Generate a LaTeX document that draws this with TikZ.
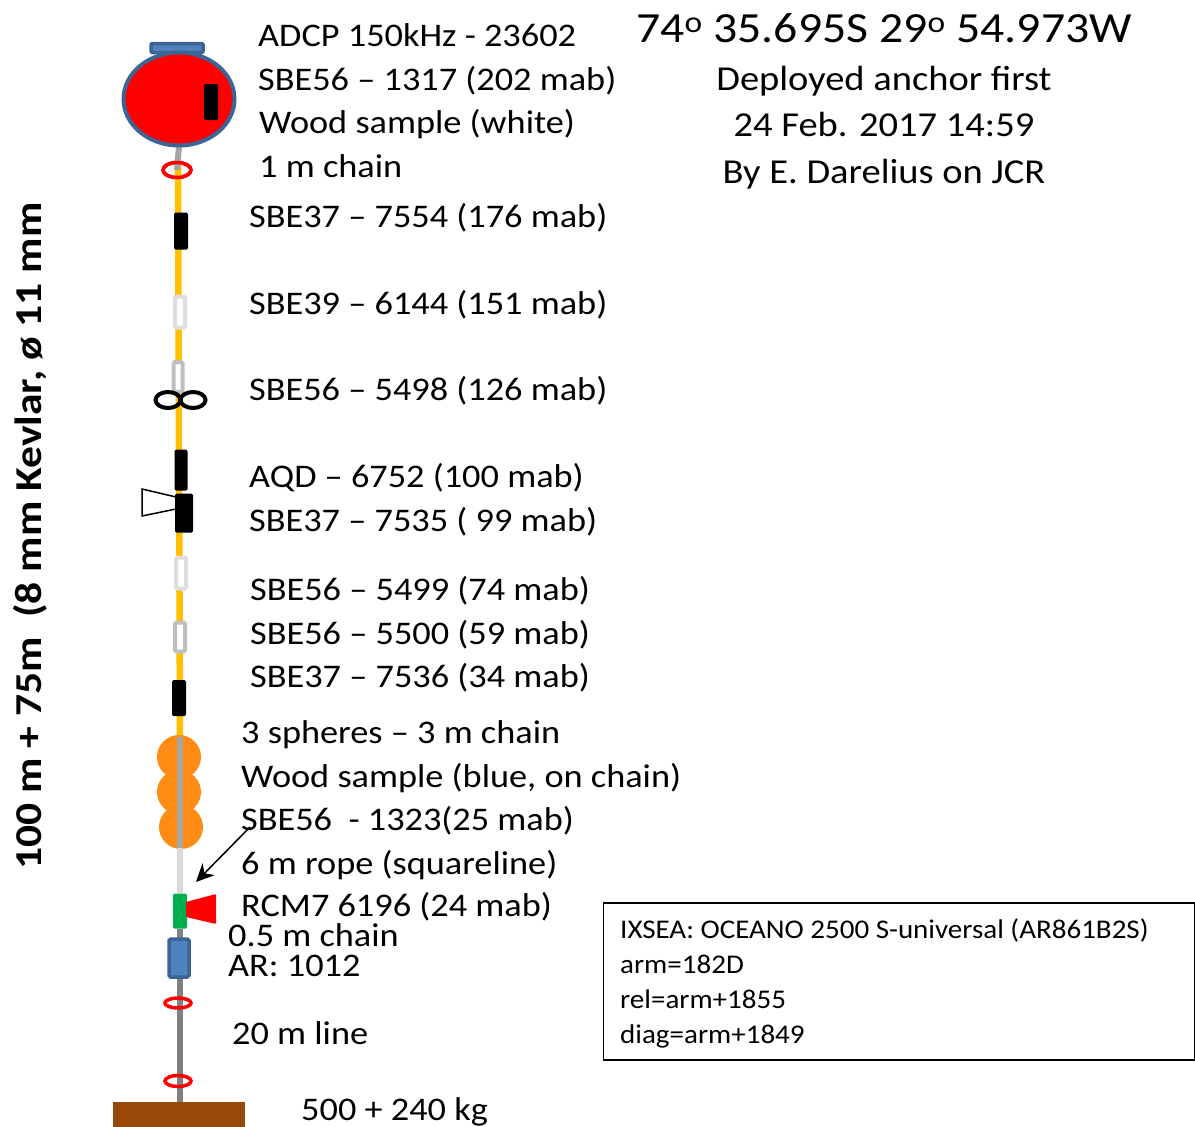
\documentclass[tikz,border=0pt]{standalone}
\usepackage{fontspec}
\setmainfont{Carlito}
\newfontfamily\widefont[FakeStretch=1.1]{Carlito}
\newfontfamily\headfont[FakeStretch=1.11]{Carlito}
\newfontfamily\boxfont[FakeStretch=1.075]{Carlito}
\newfontfamily\sidefont[FakeStretch=1.145]{Carlito}
\usetikzlibrary{shapes.geometric,arrows.meta}
\definecolor{floatblue}{HTML}{3C6494}
\definecolor{arblue}{HTML}{5082BE}
\definecolor{kevlar}{HTML}{FFC000}
\definecolor{sphere}{HTML}{FF8C14}
\definecolor{anchorbrown}{HTML}{984807}
\definecolor{rcmgreen}{HTML}{00B050}
\tikzset{
  label/.style={anchor=base west, inner sep=0pt, font=\widefont\fontsize{33}{33}\selectfont},
  head/.style={anchor=base, inner sep=0pt, font=\widefont\fontsize{35}{35}\selectfont},
  boxtext/.style={anchor=base west, inner sep=0pt, font=\boxfont\fontsize{27}{27}\selectfont},
  logger/.style={rectangle, rounded corners=1.5pt, fill=black, inner sep=0pt},
  hollow/.style={rectangle, rounded corners=1.5pt, draw, fill=white, line width=4pt, inner sep=0pt},
  ring/.style={ellipse, draw=red, line width=3.5pt, inner sep=0pt},
  ball/.style={circle, fill=sphere, minimum size=44pt, inner sep=0pt}
}
\begin{document}
\begin{tikzpicture}[x=1pt, y=-1pt]
  \useasboundingbox (0,0) rectangle (1195,1127);

  % line
  \coordinate (top) at (179,146);
  \coordinate (balltop) at (180,737);
  \coordinate (ballend) at (180,848);
  \coordinate (groundtop) at (180,1102);
  \node[ring, minimum width=28pt, minimum height=15pt] (ring1) at (177,170) {};
  \node[rectangle, fill=rcmgreen, rounded corners=1.5pt, minimum width=14pt, minimum height=35pt, inner sep=0pt] (rcm) at (180,911) {};
  \draw[kevlar, line width=6.5pt] (178,160) -- (balltop);

  % spheres
  \node[ball] (ball1) at (179,757) {};
  \node[ball] (ball2) at (179,792) {};
  \node[ball] (ball3) at (181,827) {};
  \draw[black!35, line width=6pt] (balltop) -- (ballend);
  \draw[black!15, line width=6.5pt] (ballend) -- (rcm.north);
  \draw[black!50, line width=6pt] (rcm.south) -- (groundtop);
  \draw[black!35, line width=6pt] (top) -- (ring1.center);

  % float
  \node[rectangle, rounded corners=1pt, draw=floatblue, fill=arblue, line width=3.5pt, minimum width=52pt, minimum height=9pt, inner sep=0pt] (cap) at (177,48) {};
  \node[ellipse, draw=floatblue, fill=red, line width=4pt, minimum width=111pt, minimum height=93pt, inner sep=0pt] (float) at (179,99) {};
  \node[logger, minimum width=14pt, minimum height=36pt] (adcp) at (211,102) {};
  \node[ring, minimum width=28pt, minimum height=15pt] at (ring1) {};

  % instruments
  \node[logger, minimum width=14pt, minimum height=37pt] (sbe1) at (181,231) {};
  \node[hollow, draw=black!13, minimum width=10pt, minimum height=31pt] (sbe2) at (180,312) {};
  \node[hollow, draw=black!25, minimum width=9pt, minimum height=30pt] (sbe3) at (178,377) {};
  \node[ellipse, draw, line width=4pt, minimum width=25pt, minimum height=16pt, inner sep=0pt] (eightl) at (168,400) {};
  \node[ellipse, draw, line width=4pt, minimum width=25pt, minimum height=16pt, inner sep=0pt] (eightr) at (193,400) {};
  \node[logger, minimum width=13pt, minimum height=41pt] (aqd) at (181,470) {};
  \draw[line width=1.5pt, fill=white] (176,497) -- (142,489) -- (142,516) -- (176,509) -- cycle;
  \node[logger, minimum width=18pt, minimum height=39pt] (sbe4) at (184,513) {};
  \node[hollow, draw=black!13, minimum width=10pt, minimum height=31pt] (sbe5) at (181,573) {};
  \node[hollow, draw=black!25, minimum width=10pt, minimum height=29pt] (sbe6) at (180,637) {};
  \node[logger, minimum width=14pt, minimum height=36pt] (sbe7) at (179,698) {};

  % bottom part
  \fill[red, rounded corners=1pt] (186,902) -- (216,894) -- (216,924) -- (186,917) -- cycle;
  \node[rectangle, rounded corners=1.5pt, draw=floatblue, fill=arblue, line width=3.5pt, minimum width=20pt, minimum height=38pt, inner sep=0pt] (ar) at (179,958) {};
  \node[ring, minimum width=26pt, minimum height=10pt] (ring2) at (178,1003) {};
  \node[ring, minimum width=26pt, minimum height=11pt] (ring3) at (178,1081) {};
  \fill[anchorbrown] (113,1102) rectangle (245,1127);

  \coordinate (arrowstart) at (250,827);
  \coordinate (arrowend) at (196,882);
  \draw[-{Stealth[length=18pt,width=17pt]}, line width=1.5pt] (arrowstart) -- (arrowend);

  % labels
  \node[label] (t1) at (258,46) {ADCP 150kHz - 23602};
  \node[label] (t2) at (258,90) {SBE56 – 1317 (202 mab)};
  \node[label] (t3) at (259,133) {Wood sample (white)};
  \node[label] (t4) at (259,177) {1 m chain};
  \node[label] (t5) at (249,227) {SBE37 – 7554 (176 mab)};
  \node[label] (t6) at (249,314) {SBE39 – 6144 (151 mab)};
  \node[label] (t7) at (249,400) {SBE56 – 5498 (126 mab)};
  \node[label] (t8) at (249,487) {AQD – 6752 (100 mab)};
  \node[label] (t9) at (249,531) {SBE37 – 7535 ( 99 mab)};
  \node[label] (t10) at (250,600) {SBE56 – 5499 (74 mab)};
  \node[label] (t11) at (250,644) {SBE56 – 5500 (59 mab)};
  \node[label] (t12) at (250,687) {SBE37 – 7536 (34 mab)};
  \node[label] (t13) at (241,743) {3 spheres – 3 m chain};
  \node[label] (t14) at (241,787) {Wood sample (blue, on chain)};
  \node[label] (t15) at (241,830) {SBE56\ \ - 1323(25 mab)};
  \node[label] (t16) at (241,874) {6 m rope (squareline)};
  \node[label] (t17) at (241,916) {RCM7 6196 (24 mab)};
  \node[label] (t18) at (228,946) {0.5 m chain};
  \node[label] (t19) at (228,976) {AR: 1012};
  \node[label] (t20) at (232,1044) {20 m line};
  \node[label] (t21) at (301,1120.5) {500 + 240 kg};

  \node[anchor=base west, inner sep=0pt, font=\headfont\fontsize{43}{43}\selectfont] (pos) at (636,42) {74\textsuperscript{o} 35.695S 29\textsuperscript{o} 54.973W};
  \node[head] (h1) at (884,90) {Deployed anchor first};
  \node[head] (h2) at (884,136) {24 Feb. 2017 14:59};
  \node[head] (h3) at (884,183) {By E. Darelius on JCR};

  \node[rotate=90, anchor=base, inner sep=0pt, font=\sidefont\bfseries\fontsize{38}{38}\selectfont] (kevlar) at (41,536) {100 m + 75m\ \ (8 mm Kevlar, ø 11 mm};

  % box
  \node[draw, line width=1.5pt, minimum width=591pt, minimum height=157pt, inner sep=0pt] (box) at (899,981.5) {};
  \node[boxtext] (b1) at (620,938) {IXSEA: OCEANO 2500 S-universal (AR861B2S)};
  \node[boxtext] (b2) at (620,973) {arm=182D};
  \node[boxtext] (b3) at (620,1008) {rel=arm+1855};
  \node[boxtext] (b4) at (620,1043) {diag=arm+1849};
\end{tikzpicture}
\end{document}
